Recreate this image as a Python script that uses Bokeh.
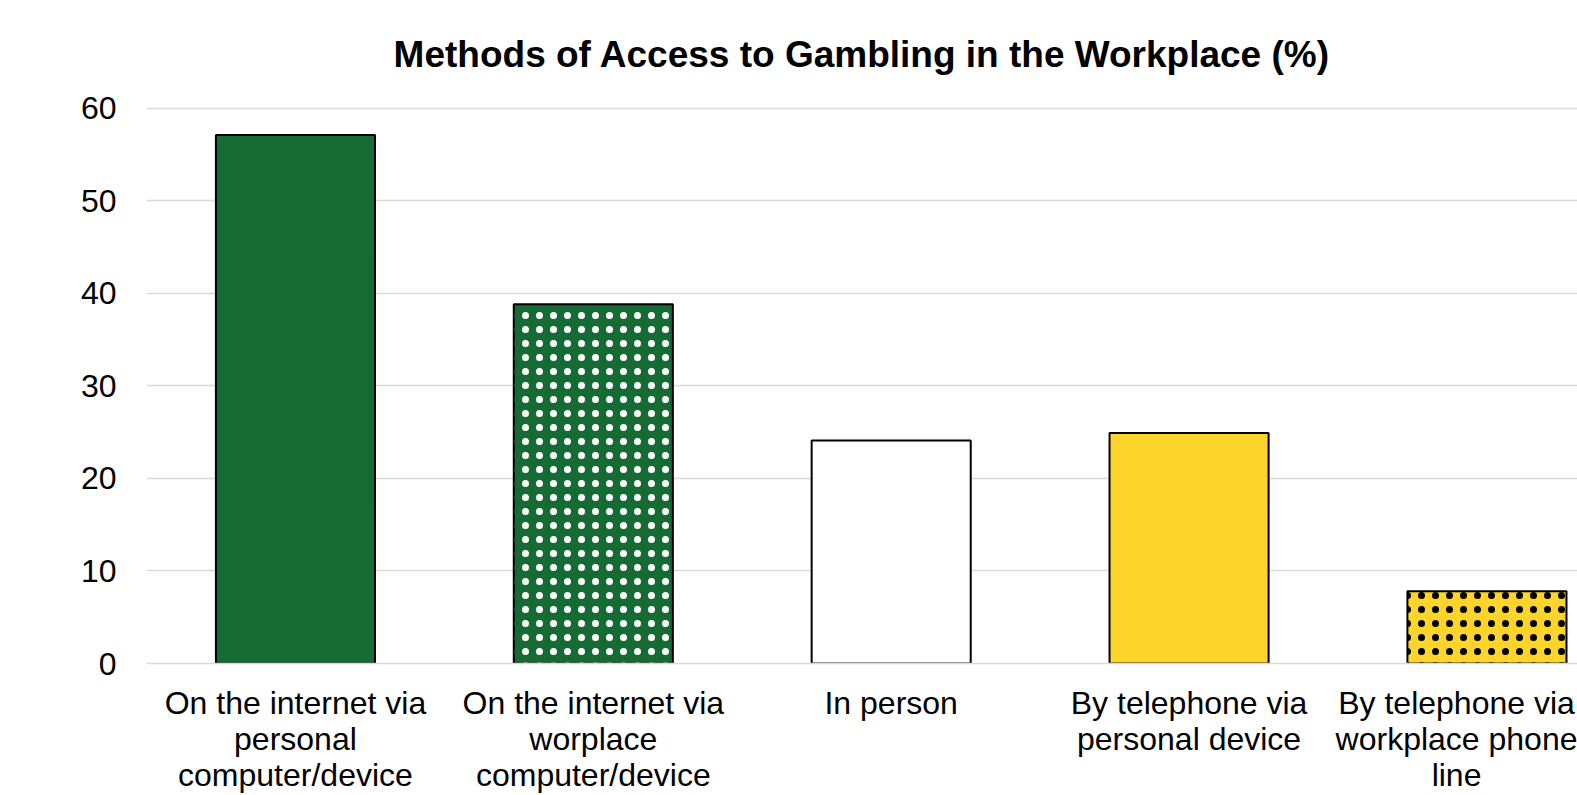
from bokeh.plotting import figure
from bokeh.models import ColumnDataSource, FixedTicker, Range1d
from bokeh.embed import file_html
from bokeh.resources import INLINE

categories = [
    "On the internet via\npersonal\ncomputer/device",
    "On the internet via\nworplace\ncomputer/device",
    "In person",
    "By telephone via\npersonal device",
    "By telephone via\nworkplace phone\nline",
]
values = [57.1, 38.8, 24.1, 24.9, 7.8]
fill_colors = ["#166A33", "#166A33", "#FFFFFF", "#FDD52A", "#FDD52A"]
hatch_patterns = ["blank", "dot", "blank", "blank", "dot"]
hatch_colors = ["#FFFFFF", "#FFFFFF", "#000000", "#000000", "#000000"]
y_ticks = [0, 10, 20, 30, 40, 50, 60]

FONT = "Liberation Sans"

xpos = [i + 0.5 for i in range(len(categories))]

source = ColumnDataSource(dict(
    x=xpos, top=values, fill=fill_colors,
    hatch=hatch_patterns, hcol=hatch_colors,
))

p = figure(
    width=1577, height=795,
    x_range=Range1d(0, 4.804),
    y_range=Range1d(0, 60.5),
    output_backend="svg", toolbar_location=None,
    title="Methods of Access to Gambling in the Workplace (%)",
    min_border_left=146, min_border_right=0, min_border_top=103, min_border_bottom=132,
)

p.vbar(x="x", top="top", width=0.534, source=source,
       fill_color="fill", line_color="#000000", line_width=2,
       hatch_pattern="hatch", hatch_color="hcol", hatch_scale=14, hatch_weight=0.5)

p.title.text_font = FONT
p.title.text_font_size = "37px"
p.title.text_font_style = "bold"
p.title.text_color = "#000000"
p.title.align = "center"
p.title.offset = 3
p.title.standoff = 57

p.outline_line_color = None
p.background_fill_color = "#FFFFFF"
p.border_fill_color = "#FFFFFF"

p.xgrid.grid_line_color = None
p.ygrid.grid_line_color = "#D9D9D9"
p.ygrid.grid_line_width = 1.5
p.ygrid.ticker = FixedTicker(ticks=y_ticks)

p.yaxis.ticker = FixedTicker(ticks=y_ticks)
p.yaxis.axis_line_color = None
p.yaxis.major_tick_line_color = None
p.yaxis.minor_tick_line_color = None
p.yaxis.major_label_text_font = FONT
p.yaxis.major_label_text_font_size = "32px"
p.yaxis.major_label_text_color = "#000000"
p.yaxis.major_label_standoff = 24

p.xaxis.ticker = FixedTicker(ticks=xpos)
p.xaxis.major_label_overrides = {x: c for x, c in zip(xpos, categories)}
p.xaxis.axis_line_color = "#D9D9D9"
p.xaxis.axis_line_width = 1.5
p.xaxis.major_tick_line_color = None
p.xaxis.minor_tick_line_color = None
p.xaxis.major_label_text_font = FONT
p.xaxis.major_label_text_font_size = "32px"
p.xaxis.major_label_text_line_height = 1.0
p.xaxis.major_label_text_color = "#000000"
p.xaxis.major_label_standoff = 15

open("out.html", "w").write(file_html(p, INLINE))
